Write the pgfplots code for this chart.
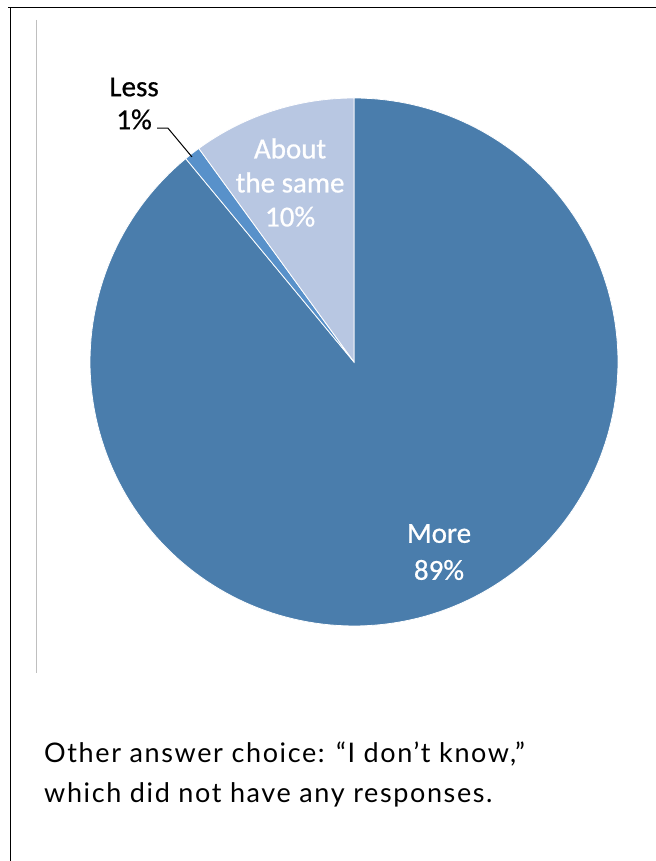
\documentclass[border=0pt]{standalone}
\usepackage{pgfplots}
\pgfplotsset{compat=1.18}
\usepackage{fontspec}
\setmainfont{Carlito}
\newfontfamily\labelfont{Carlito}[FakeBold=0.7]
\newfontfamily\notefont{Lato}[LetterSpace=6]
\definecolor{moreC}{HTML}{4A7DAC}
\definecolor{lessC}{HTML}{5891CA}
\definecolor{sameC}{HTML}{B8C7E2}
\begin{document}
\begin{tikzpicture}
\useasboundingbox (0,0) rectangle (656bp,861bp);
% frame
\draw[line width=1.6bp, black] (8bp,853.5bp) -- (656bp,853.5bp);
\draw[line width=1.6bp, black] (10.5bp,853.5bp) -- (10.5bp,0bp);
\draw[line width=0.8bp, black!25] (36.5bp,841bp) -- (36.5bp,188bp);
% values: About the same 10, Less 1, More 89 (percent), starting at 90 deg, counterclockwise
\pgfmathsetmacro{\aA}{90}
\pgfmathsetmacro{\aB}{90+3.6*10}
\pgfmathsetmacro{\aC}{\aB+3.6*1}
\pgfmathsetmacro{\aD}{\aC+3.6*89}
\begin{axis}[
  at={(354bp,499bp)}, anchor=center,
  x=264bp, y=264bp,
  xmin=-1, xmax=1, ymin=-1, ymax=1,
  hide axis, clip=false,
]
\addplot[fill=moreC, draw=white, line width=0.8bp, domain=\aC:\aD, samples=200] ({cos(x)},{sin(x)}) -- (axis cs:0,0) -- cycle;
\addplot[fill=lessC, draw=white, line width=0.8bp, domain=\aB:\aC, samples=10] ({cos(x)},{sin(x)}) -- (axis cs:0,0) -- cycle;
\addplot[fill=sameC, draw=white, line width=0.8bp, domain=\aA:\aB, samples=60] ({cos(x)},{sin(x)}) -- (axis cs:0,0) -- cycle;
\node[align=center, text=white, font=\labelfont\fontsize{29bp}{34bp}\selectfont, inner sep=0] at (axis cs:-0.242,0.68) {About\\the same\\10\%};
\node[align=center, text=white, font=\labelfont\fontsize{29bp}{37bp}\selectfont, inner sep=0] at (axis cs:0.322,-0.72) {More\\89\%};
\node[align=center, text=black, font=\labelfont\fontsize{29bp}{33bp}\selectfont, inner sep=0] at (axis cs:-0.833,0.979) {Less\\1\%};
\draw[black, line width=1bp] (axis cs:-0.746,0.886) -- (axis cs:-0.705,0.886) -- (axis cs:-0.614,0.777);
\end{axis}
\node[anchor=base west, inner sep=0, font=\notefont\fontsize{27bp}{38bp}\selectfont] at (44bp,98bp) {Other answer choice: “I don’t know,”};
\node[anchor=base west, inner sep=0, font=\notefont\fontsize{27bp}{38bp}\selectfont] at (44bp,58bp) {which did not have any responses.};
\end{tikzpicture}
\end{document}
